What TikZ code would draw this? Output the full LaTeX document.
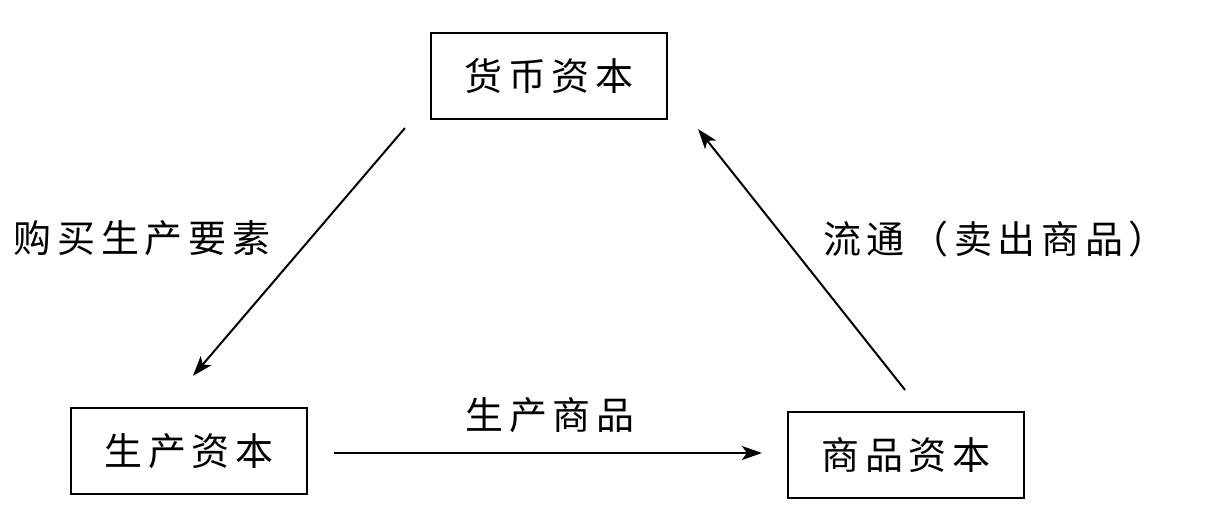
\documentclass[tikz,border=0pt]{standalone}
\usepackage{fontspec}
\usepackage{tikz}
\usetikzlibrary{arrows.meta,calc,positioning}
\newfontfamily\cjk[LetterSpace=15]{Noto Sans CJK SC}
\tikzstyle{capital} = [rectangle, minimum width=118pt, minimum height=43pt, text centered, draw=black, line width=1.1pt, font=\cjk\fontsize{19pt}{21pt}\selectfont]
\tikzstyle{label} = [font=\cjk\fontsize{19pt}{21pt}\selectfont]
\tikzstyle{arrow} = [line width=1pt,->,>={Stealth[length=10pt,width=7pt,inset=2.5pt]}]

\begin{document}
\begin{tikzpicture}[x=0.5pt,y=-0.5pt]
	\useasboundingbox (0,0) rectangle (1220,512);
	\node (Money) [capital] at (549,76) {货币资本};
	\node (Productive) [capital] at (189,451) {生产资本};
	\node (Commodity) [capital] at (906,455) {商品资本};
	
	\node (Buy) [label] at (142,238) {购买生产要素};
	\node (Circulate) [label] at (995,239) {流通（卖出商品）};
	\node (Produce) [label] at (550,415) {生产商品};
	
	\draw[arrow] ($(Money.south west)+(-25,8)$) -- ($(Productive.north)+(4,-31)$);
	\draw[arrow] ($(Productive.east)+(26,2)$) -- ($(Commodity.west)+(-25,-2)$);
	\draw[arrow] ($(Commodity.north)+(-1,-21)$) -- ($(Money.south east)+(30,9)$);
\end{tikzpicture}
\end{document}
